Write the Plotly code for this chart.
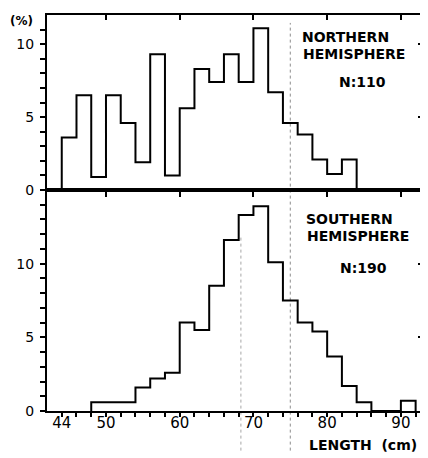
import plotly.graph_objects as go

# ---- data (percent of fish per 2-cm length class) ----
north_edges = [44, 46, 48, 50, 52, 54, 56, 58, 60, 62, 64, 66, 68, 70, 72, 74, 76, 78, 80, 82, 84]
north_pct = [3.6, 6.5, 0.9, 6.5, 4.6, 1.9, 9.3, 1.0, 5.6, 8.3, 7.4, 9.3, 7.4, 11.1, 6.7, 4.6, 3.8, 2.1, 1.1, 2.1]

south_edges = [48, 50, 52, 54, 56, 58, 60, 62, 64, 66, 68, 70, 72, 74, 76, 78, 80, 82, 84, 86, 88, 90, 92]
south_pct = [0.6, 0.6, 0.6, 1.6, 2.2, 2.6, 6.0, 5.5, 8.5, 11.6, 13.3, 13.9, 10.1, 7.5, 6.0, 5.4, 3.7, 1.7, 0.6, 0.0, 0.0, 0.7]

x_tickvals = list(range(44, 93, 2))
x_ticktext = [str(v) if v in (44, 50, 60, 70, 80, 90) else "" for v in x_tickvals]
top_xticks = [50, 60, 70, 80, 90]
y1_tickvals = list(range(0, 12))
y2_tickvals = list(range(0, 15))
y_labels = {0: "0", 5: "5", 10: "10"}

north_lines = ["NORTHERN", "HEMISPHERE"]
south_lines = ["SOUTHERN", "HEMISPHERE"]
north_n = "N:110"
south_n = "N:190"
x_title = "LENGTH  (cm)"


def step(edges, vals):
    xs = [edges[0]] + edges[:-1] + [edges[-1], edges[-1]]
    ys = [0] + list(vals) + [vals[-1], 0]
    return xs, ys


FONT = "DejaVu Sans"
fig = go.Figure()

nx, ny = step(north_edges, north_pct)
sx, sy = step(south_edges, south_pct)
fig.add_trace(go.Scatter(x=nx, y=ny, mode="lines", line=dict(color="black", width=2, shape="hv"),
                         xaxis="x", yaxis="y", showlegend=False, hoverinfo="skip"))
fig.add_trace(go.Scatter(x=sx, y=sy, mode="lines", line=dict(color="black", width=2, shape="hv"),
                         xaxis="x2", yaxis="y2", showlegend=False, hoverinfo="skip"))

XR = [42, 93]
split = 221 / 396

common_x = dict(range=XR, showgrid=False, zeroline=False, showline=True, linecolor="black",
                linewidth=2, automargin=False)
common_y = dict(showgrid=False, zeroline=False, showline=True, linecolor="black", linewidth=2,
                ticks="outside", ticklen=5, tickwidth=1.5, tickcolor="black", automargin=False,
                ticklabelstandoff=3,
                tickfont=dict(family=FONT, size=14, color="black"))

# the page places the figure with an 8px offset, so margins are shifted to land the frame
fig.update_layout(
    template="none",
    width=428, height=458,
    margin=dict(l=39, r=13, t=7, b=55, autoexpand=False),
    paper_bgcolor="white", plot_bgcolor="white",
    xaxis=dict(**common_x, domain=[0, 1], anchor="y", mirror=True, ticks="outside",
               tickvals=top_xticks, ticklen=5, tickwidth=1.5, tickcolor="black",
               showticklabels=False),
    xaxis3=dict(range=XR, overlaying="x", side="top", anchor="y", showgrid=False, zeroline=False,
                showline=False, ticks="inside", tickvals=top_xticks, ticklen=5, tickwidth=1.5,
                tickcolor="black", showticklabels=False, automargin=False),
    xaxis2=dict(**common_x, domain=[0, 1], anchor="y2", mirror=True, ticks="outside",
                tickvals=x_tickvals, ticktext=x_ticktext, ticklen=4, tickwidth=1.5,
                tickcolor="black", ticklabelstandoff=-7,
                tickfont=dict(family=FONT, size=15, color="black")),
    yaxis=dict(**common_y, domain=[split, 1], anchor="x", range=[0, 12], mirror=True,
               tickvals=y1_tickvals, ticktext=[y_labels.get(v, "") for v in y1_tickvals]),
    yaxis2=dict(**common_y, domain=[0, split], anchor="x2", range=[0, 15], mirror=True,
                tickvals=y2_tickvals, ticktext=[y_labels.get(v, "") for v in y2_tickvals]),
    yaxis3=dict(range=[0, 12], overlaying="y", side="right", anchor="x", showgrid=False,
                zeroline=False, showline=False, ticks="inside", tickvals=[5, 10], ticklen=5,
                tickwidth=1.5, tickcolor="black", showticklabels=False, automargin=False),
    yaxis4=dict(range=[0, 15], overlaying="y2", side="right", anchor="x2", showgrid=False,
                zeroline=False, showline=False, ticks="inside", tickvals=[5, 10], ticklen=5,
                tickwidth=1.5, tickcolor="black", showticklabels=False, automargin=False),
)

# dummy traces to activate overlay axes
fig.add_trace(go.Scatter(x=[None], y=[None], xaxis="x3", yaxis="y", showlegend=False))
fig.add_trace(go.Scatter(x=[None], y=[None], xaxis="x", yaxis="y3", showlegend=False))
fig.add_trace(go.Scatter(x=[None], y=[None], xaxis="x2", yaxis="y4", showlegend=False))

# faint dotted scan guide lines
fig.add_shape(type="line", xref="x2", yref="paper", x0=75, x1=75, y0=-0.1, y1=0.98,
              line=dict(color="rgba(0,0,0,0.45)", width=1, dash="dot"), layer="below")
fig.add_shape(type="line", xref="x2", yref="paper", x0=68.3, x1=68.3, y0=-0.1, y1=0.44,
              line=dict(color="rgba(0,0,0,0.35)", width=1, dash="dot"), layer="below")

ann_font = dict(family=FONT, size=14, color="black", weight="bold")


def label(text, x, y):
    fig.add_annotation(text=text, xref="paper", yref="paper", x=x, y=y, xanchor="left",
                       yanchor="middle", showarrow=False, font=ann_font)


label(north_lines[0], 0.673, 0.9444)
label(north_lines[1], 0.6755, 0.9015)
label(north_n, 0.771, 0.8308)
label(south_lines[0], 0.6835, 0.4836)
label(south_lines[1], 0.686, 0.4419)
label(south_n, 0.774, 0.3604)
label(x_title, 0.6915, -0.0859)

fig.add_annotation(text="(%)", xref="paper", yref="paper", x=-0.0665, y=0.985,
                   xanchor="center", yanchor="middle", showarrow=False,
                   font=dict(family=FONT, size=12, color="black", weight="bold"))

fig.write_html("out.html")
